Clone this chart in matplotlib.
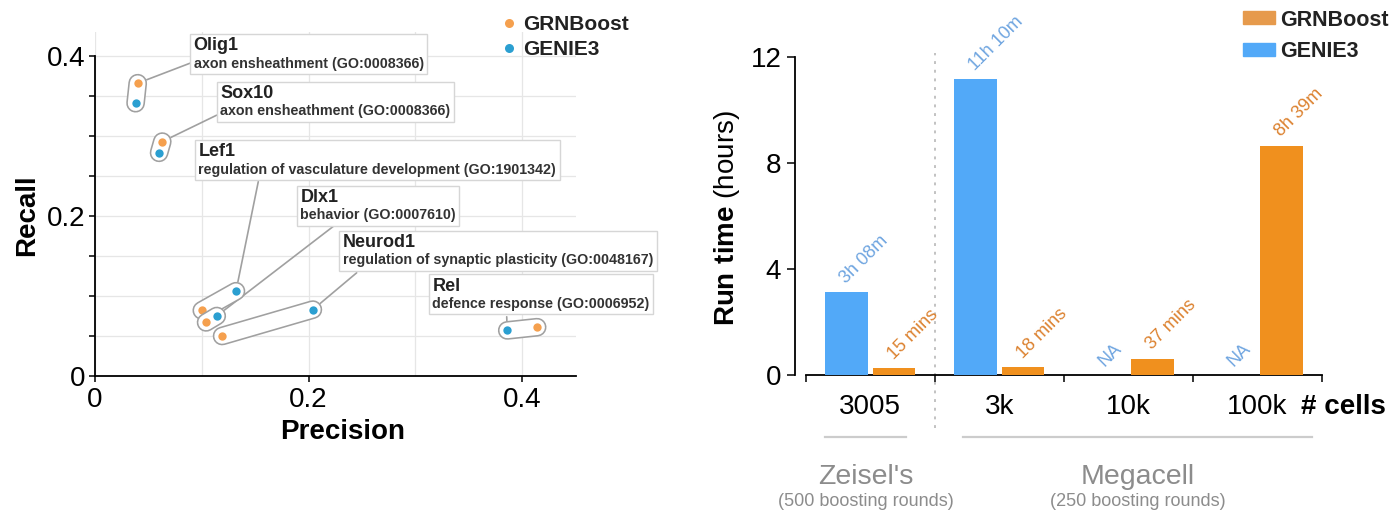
import numpy as np
import matplotlib
matplotlib.use("Agg")
import matplotlib.pyplot as plt
from matplotlib.offsetbox import TextArea, VPacker, AnnotationBbox
from matplotlib.lines import Line2D
from matplotlib.patches import Patch

plt.rcParams["font.family"] = "Liberation Sans"
plt.rcParams["mathtext.fontset"] = "custom"
plt.rcParams["mathtext.rm"] = "Liberation Sans"
plt.rcParams["mathtext.bf"] = "Liberation Sans:bold"

# ---------------- data: precision / recall of GO terms per regulator ----------------
genes = ["Olig1", "Sox10", "Lef1", "Dlx1", "Neurod1", "Rel"]
go_terms = [
    "axon ensheathment (GO:0008366)",
    "axon ensheathment (GO:0008366)",
    "regulation of vasculature development (GO:1901342)",
    "behavior (GO:0007610)",
    "regulation of synaptic plasticity (GO:0048167)",
    "defence response (GO:0006952)",
]
grnboost_precision = [0.040, 0.063, 0.100, 0.104, 0.119, 0.414]
grnboost_recall = [0.366, 0.293, 0.082, 0.067, 0.050, 0.061]
genie3_precision = [0.038, 0.060, 0.132, 0.114, 0.204, 0.386]
genie3_recall = [0.341, 0.279, 0.106, 0.075, 0.083, 0.057]

# label box placement (top-left corner) and leader start, data units
box_anchor = [(0.089, 0.4275), (0.114, 0.368), (0.0936, 0.295),
              (0.189, 0.238), (0.2288, 0.1816), (0.3127, 0.127)]
leader_start = [(0.089, 0.391), (0.1139, 0.326), (0.1529, 0.243),
                (0.2231, 0.187), (0.245, 0.129), (0.3855, 0.074)]

# ---------------- data: run times ----------------
datasets = ["3005", "3k", "10k", "100k"]
genie3_hours = [3 + 8 / 60, 11 + 10 / 60, np.nan, np.nan]
grnboost_hours = [15 / 60, 18 / 60, 37 / 60, 8 + 39 / 60]
genie3_text = ["3h 08m", "11h 10m", "NA", "NA"]
grnboost_text = ["15 mins", "18 mins", "37 mins", "8h 39m"]

ORANGE_PT = "#f5a04e"
BLUE_PT = "#2b9fd1"
ORANGE_BAR = "#f0901e"
BLUE_BAR = "#52a9f8"
ORANGE_TXT = "#dc8230"
BLUE_TXT = "#6fa5e0"
GREY_TXT = "#8c8c8c"

W, H = 1397, 512
fig = plt.figure(figsize=(W / 100, H / 100), dpi=100)


def frac(px, py):
    return px / W, 1 - py / H


# ======================= left: precision vs recall =======================
ax = fig.add_axes([95 / W, 1 - 376 / H, 480.6 / W, 344 / H])
ax.set_xlim(0, 0.45)
ax.set_ylim(0, 0.43)
for s in ("top", "right"):
    ax.spines[s].set_visible(False)
ax.spines["left"].set_bounds(0, 0.4)
for s in ("left", "bottom"):
    ax.spines[s].set_linewidth(1.3)

ax.set_xticks([0, 0.2, 0.4], labels=["0", "0.2", "0.4"])
ax.set_xticks([0.1, 0.3], minor=True)
ax.set_yticks([0, 0.2, 0.4], labels=["0", "0.2", "0.4"])
ax.set_yticks([0.05, 0.1, 0.15, 0.25, 0.3, 0.35], minor=True)
ax.tick_params(axis="both", which="major", labelsize=20, length=4, width=1.1,
               direction="out", pad=3)
ax.tick_params(axis="x", which="major", pad=4)
ax.tick_params(axis="y", which="minor", length=4, width=1.1)
ax.tick_params(axis="x", which="minor", length=0)
ax.grid(True, which="both", color="#e6e6e6", lw=0.9)
ax.set_axisbelow(True)

ax.set_xlabel("Precision", fontsize=20, fontweight="bold", va="center")
ax.xaxis.set_label_coords(0.516, -0.162)
ax.set_ylabel("Recall", fontsize=20, fontweight="bold", va="center")
ax.yaxis.set_label_coords(-0.1415, 0.468)

fig.canvas.draw()
to_px = ax.transData.transform

for i, gene in enumerate(genes):
    z = 3 + i * 0.1
    px = [grnboost_precision[i], genie3_precision[i]]
    py = [grnboost_recall[i], genie3_recall[i]]
    # capsule around the pair
    ax.plot(px, py, color="#a0a0a0", lw=13.5, solid_capstyle="round", zorder=z)
    ax.plot(px, py, color="white", lw=11.2, solid_capstyle="round", zorder=z + 0.01)
    ax.plot(px[0], py[0], "o", ms=6, color=ORANGE_PT, mec="none", zorder=z + 0.02)
    ax.plot(px[1], py[1], "o", ms=6, color=BLUE_PT, mec="none", zorder=z + 0.02)

    # leader goes to the member of the pair closest to the label
    s_px = to_px(leader_start[i])
    d = [np.hypot(*(to_px((px[k], py[k])) - s_px)) for k in range(2)]
    k = int(np.argmin(d))
    ax.annotate("", xy=(px[k], py[k]), xytext=leader_start[i],
                arrowprops=dict(arrowstyle="-", color="#a0a0a0", lw=1.2,
                                shrinkA=0, shrinkB=7),
                zorder=2.5)

    title = TextArea(gene, textprops=dict(fontsize=13, fontweight="bold", color="#222222"))
    desc = TextArea(go_terms[i], textprops=dict(fontsize=10.3, fontweight="bold", color="#333333"))
    pack = VPacker(children=[title, desc], align="left", pad=2.5, sep=1.5)
    ab = AnnotationBbox(pack, box_anchor[i], xycoords="data", box_alignment=(0, 1),
                        pad=0, frameon=True, annotation_clip=False,
                        bboxprops=dict(edgecolor="#d6d6d6", facecolor="white", lw=1.0))
    ab.set_zorder(6)
    ax.add_artist(ab)

left_handles = [
    Line2D([], [], ls="none", marker="o", ms=6.5, color=ORANGE_PT, mec="none", label="GRNBoost"),
    Line2D([], [], ls="none", marker="o", ms=6.5, color=BLUE_PT, mec="none", label="GENIE3"),
]
leg = ax.legend(handles=left_handles, loc="upper left", bbox_to_anchor=frac(503, 15.5),
                bbox_transform=fig.transFigure, frameon=False, handlelength=0.6,
                handletextpad=0.35, borderpad=0, borderaxespad=0, labelspacing=0.27,
                prop=dict(size=15, weight="bold"))
for t in leg.get_texts():
    t.set_color("#222222")

# ======================= right: run time bars =======================
bx = fig.add_axes([805.6 / W, 1 - 375 / H, 516.4 / W, 318 / H])
x = np.arange(len(datasets))
off, bw = 0.185, 0.33
bx.bar(x - off, genie3_hours, width=bw, color=BLUE_BAR, zorder=3)
bx.bar(x + off, grnboost_hours, width=bw, color=ORANGE_BAR, zorder=3)

bx.set_xlim(-0.5, len(datasets) - 0.5)
bx.set_ylim(0, 12)
for s in ("top", "right"):
    bx.spines[s].set_visible(False)
bx.spines["left"].set_position(("outward", 7.5))
for s in ("left", "bottom"):
    bx.spines[s].set_linewidth(1.3)

bx.set_xticks(np.arange(len(datasets) + 1) - 0.5, labels=[""] * (len(datasets) + 1))
bx.set_xticks(x, labels=datasets, minor=True)
bx.set_yticks([0, 4, 8, 12])
bx.tick_params(axis="x", which="major", length=5, width=1.1, direction="out")
bx.tick_params(axis="x", which="minor", length=0, labelsize=20, pad=14)
bx.tick_params(axis="y", labelsize=20, length=6, width=1.1, pad=4)

bx.set_ylabel(r"$\bf{Run\ time}$ (hours)", fontsize=20, va="center")
bx.yaxis.set_label_coords(-0.152, 0.495)

for xi, v, t in zip(x - off, genie3_hours, genie3_text):
    h = 0 if np.isnan(v) else v
    bx.annotate(t, (xi, h), xytext=(2, 4), textcoords="offset points", rotation=45,
                rotation_mode="anchor", ha="left", va="bottom", fontsize=13,
                color=BLUE_TXT)
for xi, v, t in zip(x + off, grnboost_hours, grnboost_text):
    bx.annotate(t, (xi, v), xytext=(2, 4), textcoords="offset points", rotation=45,
                rotation_mode="anchor", ha="left", va="bottom", fontsize=13,
                color=ORANGE_TXT)

# separator between the two datasets
bx.plot([0.5, 0.5], [-2.0, 12.15], color="#bdbdbd", lw=1.3, ls=(0, (1.6, 3.2)),
        clip_on=False, zorder=1)

fig.text(*frac(1301, 407), "# cells", fontsize=20, fontweight="bold", ha="left", va="center")

groups = [("Zeisel's", "(500 boosting rounds)", -0.35, 0.28),
          ("Megacell", "(250 boosting rounds)", 0.72, 3.42)]
for name, sub, x0, x1 in groups:
    bx.plot([x0, x1], [-2.33, -2.33], color="#cccccc", lw=1.6, clip_on=False)
    xc = (x0 + x1) / 2
    bx.text(xc, -3.85, name, fontsize=20.5, color=GREY_TXT, ha="center", va="center",
            clip_on=False)
    bx.text(xc, -4.78, sub, fontsize=13, color=GREY_TXT, ha="center", va="center",
            clip_on=False)

right_handles = [Patch(color="#e69a4c", label="GRNBoost"),
                 Patch(color=BLUE_BAR, label="GENIE3")]
leg2 = bx.legend(handles=right_handles, loc="upper left", bbox_to_anchor=frac(1243, 9.5),
                 bbox_transform=fig.transFigure, frameon=False, handlelength=1.49,
                 handleheight=0.54, handletextpad=0.22, borderpad=0, borderaxespad=0,
                 labelspacing=0.48, prop=dict(size=15.5, weight="bold"))
for t in leg2.get_texts():
    t.set_color("#222222")

fig.savefig("out.png", dpi=100)
